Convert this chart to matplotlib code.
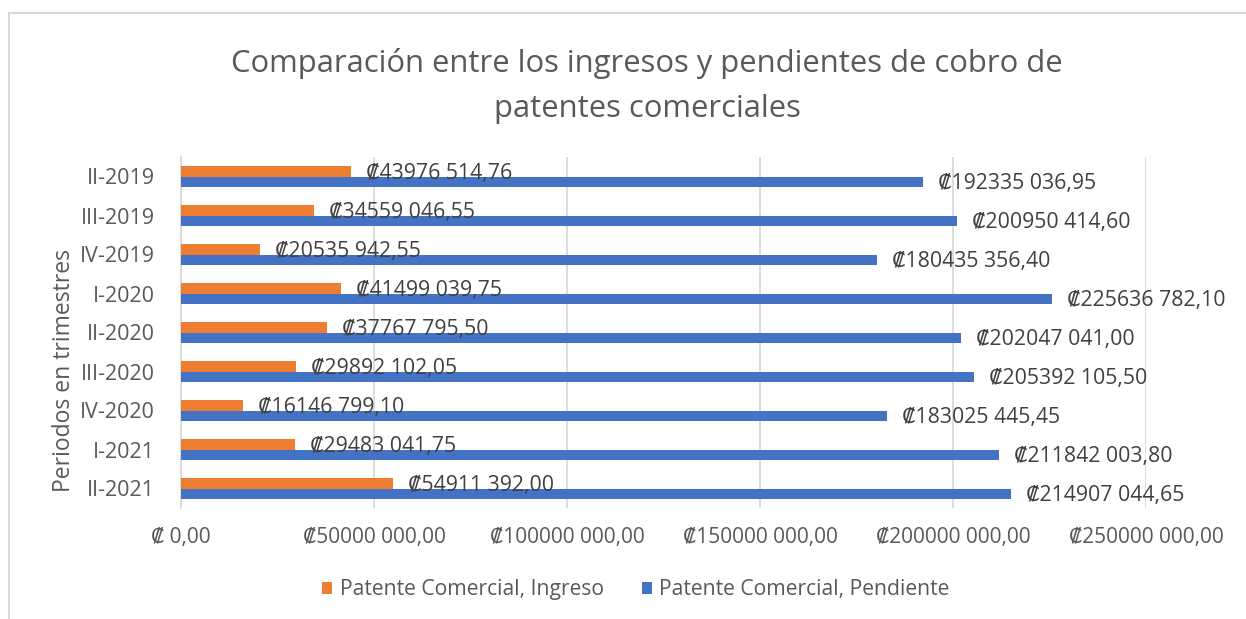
import numpy as np
import matplotlib
matplotlib.use("Agg")
from matplotlib import pyplot as plt
from matplotlib.lines import Line2D

plt.rcParams['font.family'] = ['Open Sans', 'DejaVu Sans']

# Data
periodos = ['II-2019', 'III-2019', 'IV-2019', 'I-2020', 'II-2020',
            'III-2020', 'IV-2020', 'I-2021', 'II-2021']
ingreso = [43976514.76, 34559046.55, 20535942.55, 41499039.75, 37767795.50,
           29892102.05, 16146799.10, 29483041.75, 54911392.00]
pendiente = [192335036.95, 200950414.60, 180435356.40, 225636782.10, 202047041.00,
             205392105.50, 183025445.45, 211842003.80, 214907044.65]
x_ticks = [0, 50000000, 100000000, 150000000, 200000000, 250000000]

orange = '#ED7D31'
blue = '#4472C4'
grey_txt = '#595959'
label_txt = '#404040'


def colones(v):
    # Excel style "₡#0 000,00"
    if v == 0:
        return '\u20a1 0,00'
    cents = int(round(v * 100))
    entero, dec = divmod(cents, 100)
    miles, resto = divmod(entero, 1000)
    return f'\u20a1{miles} {resto:03d},{dec:02d}'


fig = plt.figure(figsize=(12.46, 6.19), dpi=100)
ax = fig.add_axes([181 / 1246, 1 - 508 / 619, (1146 - 181) / 1246, (508 - 157) / 619])

y = np.arange(len(periodos))
h = 0.27
bars_i = ax.barh(y - h / 2, ingreso, height=h, color=orange, label='Patente Comercial, Ingreso', zorder=3)
bars_p = ax.barh(y + h / 2, pendiente, height=h, color=blue, label='Patente Comercial, Pendiente', zorder=3)

for b, v in zip(bars_i, ingreso):
    ax.annotate(colones(v), (v, b.get_y() + b.get_height() / 2), xytext=(15, -2),
                textcoords='offset pixels', ha='left', va='center',
                fontsize=15.3, color=label_txt, zorder=4)
for b, v in zip(bars_p, pendiente):
    ax.annotate(colones(v), (v, b.get_y() + b.get_height() / 2), xytext=(15, -2),
                textcoords='offset pixels', ha='left', va='center',
                fontsize=15.3, color=label_txt, zorder=4)

ax.set_ylim(len(periodos) - 0.5, -0.5)
ax.set_yticks(y)
ax.set_yticklabels(periodos)
ax.set_xlim(0, 250000000)
ax.set_xticks(x_ticks)
ax.set_xticklabels([colones(t) for t in x_ticks])
ax.tick_params(axis='both', length=0, colors=grey_txt)
ax.tick_params(axis='x', pad=14, labelsize=15)
ax.tick_params(axis='y', pad=19, labelsize=15.5)

ax.grid(axis='x', color='#d9d9d9', linewidth=1.3, zorder=0)
for s in ['top', 'right', 'bottom']:
    ax.spines[s].set_visible(False)
ax.spines['left'].set_color('#d9d9d9')
ax.spines['left'].set_linewidth(1.3)

fig.text(64 / 1246, 1 - 370 / 619, 'Periodos en trimestres', rotation=90,
         ha='center', va='center', fontsize=16.5, color=grey_txt)

fig.text(647 / 1246, 1 - 86 / 619, 'Comparación entre los ingresos y pendientes de cobro de\npatentes comerciales',
         ha='center', va='center', fontsize=22.3, color=grey_txt, linespacing=1.65)

leg = fig.legend(loc='center', bbox_to_anchor=(636 / 1246, 1 - 590 / 619), ncol=2, frameon=False,
                 fontsize=15.2, handlelength=0.48, handleheight=0.48, handletextpad=0.35,
                 columnspacing=1.8)
for t in leg.get_texts():
    t.set_color(grey_txt)

# chart frame (partially visible)
fig.add_artist(Line2D([9 / 1246, 1], [1 - 13 / 619, 1 - 13 / 619], color='#d9d9d9', linewidth=1.5))
fig.add_artist(Line2D([9 / 1246, 9 / 1246], [0, 1 - 13 / 619], color='#d9d9d9', linewidth=1.5))

fig.savefig('out.png', dpi=100)
